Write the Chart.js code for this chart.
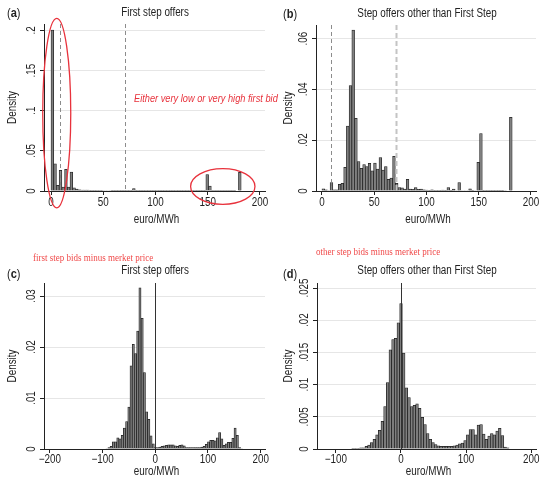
<!DOCTYPE html>
<html>
<head>
<meta charset="utf-8">
<script src="https://cdn.jsdelivr.net/npm/chart.js@4.4.1/dist/chart.umd.min.js"></script>
<style>
html, body { margin: 0; padding: 0; background: #fff; overflow: hidden; }
#wrap { position: relative; width: 542px; height: 478px; }
canvas { position: absolute; }
.t, .lbl, .note, .serif { position: absolute; white-space: nowrap; }
.t { transform: translate(-50%, -50%) scaleX(0.82); color: #222;
     font: 12px "Liberation Sans", Arial, sans-serif; }
.lbl { transform: translate(0, -50%) scaleX(0.85); transform-origin: left center; color: #222;
       font: 13px "Liberation Sans", Arial, sans-serif; }
.note { transform: translate(0, -50%) scaleX(0.84); transform-origin: left center; color: #e8323c;
        font: italic 11px "Liberation Sans", Arial, sans-serif; }
.serif { transform: translate(0, -50%) scaleX(0.9); transform-origin: left center; color: #f04a4a;
         font: 10px "Liberation Serif", "Times New Roman", serif; }
</style>
</head>
<body>
<div id="wrap">
  <canvas id="chartA" width="271" height="240" style="left:0;top:0"></canvas>
  <canvas id="chartB" width="271" height="240" style="left:271px;top:0"></canvas>
  <canvas id="chartC" width="271" height="238" style="left:0;top:240px"></canvas>
  <canvas id="chartD" width="271" height="238" style="left:271px;top:240px"></canvas>

  <div class="lbl" style="left:7px;top:12px">(<b>a</b>)</div>
  <div class="t" style="left:155px;top:12px">First step offers</div>
  <div class="lbl" style="left:283px;top:13px">(<b>b</b>)</div>
  <div class="t" style="left:427px;top:13px">Step offers other than First Step</div>
  <div class="note" style="left:134px;top:98px">Either very low or very high first bid</div>

  <div class="serif" style="left:33px;top:257px">first step bids minus merket price</div>
  <div class="lbl" style="left:7px;top:273px">(<b>c</b>)</div>
  <div class="t" style="left:155px;top:270px">First step offers</div>

  <div class="serif" style="left:316px;top:251px">other step bids minus merket price</div>
  <div class="lbl" style="left:283px;top:273px">(<b>d</b>)</div>
  <div class="t" style="left:427px;top:270px">Step offers other than First Step</div>
</div>
<script>
// (a) first step offers, euro/MWh: bins start at 0, 2.6 wide
const firstStepStart = 0, firstStepWidth = 2.6;
const firstStepDensity = [
  0.2005, 0.034, 0.007, 0.0257, 0.005, 0.027, 0.005, 0.0236, 0.004, 0.0025,
  0.0015, 0.0012, 0.001, 0.001, 0.0008, 0.0008, 0.0008, 0.0007, 0.0007, 0.0006,
  0.0006, 0.0006, 0.0005, 0.0005, 0.0005, 0.0005, 0.0004, 0.0004, 0.0003, 0.0003,
  0.003, 0.0003, 0.0003, 0.0002, 0.0002, 0.0003, 0.0003, 0.0002, 0.0002, 0.0003,
  0.0004, 0.0003, 0.0002, 0.0002, 0.0002, 0.0003, 0.0002, 0.0002, 0.0003, 0.0004,
  0.0005, 0.0003, 0.0002, 0.0002, 0.0003, 0.0002, 0.0002, 0.0204, 0.0062, 0.0001,
  0.0001, 0.0001, 0.0001, 0.0001, 0.0001, 0.0001, 0.0001, 0.0001, 0, 0.0233
];

// (b) other step offers, euro/MWh
const otherStepStart = 0, otherStepWidth = 2.6;
const otherStepDensity = [
  0.0009, 0.0005, 0.0002, 0.0033, 0.0005, 0.0005, 0.0026, 0.003, 0.0093, 0.0256,
  0.0415, 0.0634, 0.0286, 0.0116, 0.0089, 0.0104, 0.0096, 0.0109, 0.0079, 0.011,
  0.0086, 0.0132, 0.0082, 0.0096, 0.0046, 0.0051, 0.0137, 0.003, 0.0013, 0.0012,
  0.0008, 0.0046, 0.0008, 0.0007, 0.0013, 0.0007, 0.0008, 0.0005, 0.0004, 0.0003,
  0.0005, 0.0003, 0.0003, 0.0003, 0.0004, 0.0003, 0.0013, 0.0003, 0.0008, 0.0002,
  0.0033, 0.0002, 0.0002, 0.0002, 0.0009, 0.0003, 0.0002, 0.0113, 0.0226, 0.0001,
  0.0001, 0.0001, 0.0001, 0.0001, 0.0001, 0.0001, 0.0001, 0.0002, 0, 0.029
];

// (c) first step bid minus market price
const firstGapStart = -94.2, firstGapWidth = 4.2;
const firstGapDensity = [
  0.0001, 0.0003, 0.0005, 0.0014, 0.0014, 0.0022, 0.002, 0.0027, 0.0041, 0.0054,
  0.0082, 0.0163, 0.0205, 0.0187, 0.0231, 0.0316, 0.0256, 0.015, 0.0073, 0.0058,
  0.0026, 0.001, 0.0003, 0.0003, 0.0004, 0.0005, 0.0006, 0.0007, 0.0008, 0.0008,
  0.0008, 0.0006, 0.0005, 0.0007, 0.0008, 0.0006, 0.0003, 0.0003, 0.0003, 0.0003,
  0.0003, 0.0003, 0.0003, 0.0004, 0.0005, 0.0009, 0.0014, 0.0017, 0.0017, 0.0016,
  0.0022, 0.0032, 0.002, 0.0007, 0.001, 0.0013, 0.0013, 0.0021, 0.0041, 0.0027,
  0.0003, 0.0001
];

// (d) other step bids minus market price
const otherGapStart = -75.8, otherGapWidth = 4.1;
const otherGapDensity = [
  0.0001, 0.0001, 0.0001, 0.0002, 0.0002, 0.0004, 0.0006, 0.001, 0.0015, 0.0022,
  0.0029, 0.0043, 0.0066, 0.0103, 0.0154, 0.017, 0.0172, 0.0196, 0.0226, 0.0149,
  0.0095, 0.008, 0.0066, 0.0068, 0.007, 0.0063, 0.0049, 0.0038, 0.0024, 0.0015,
  0.001, 0.0007, 0.0005, 0.0004, 0.0004, 0.0004, 0.0004, 0.0004, 0.0005, 0.0006,
  0.0008, 0.0009, 0.0013, 0.0022, 0.003, 0.003, 0.0022, 0.0037, 0.0038, 0.0023,
  0.0015, 0.002, 0.0024, 0.0022, 0.0028, 0.0032, 0.0021, 0.0003, 0.0002
];

const priceTicks = [0, 50, 100, 150, 200];
const gapTicksC = [-200, -100, 0, 100, 200];
const gapTicksD = [-100, 0, 100, 200];
const densityTicksA = [0, 0.05, 0.1, 0.15, 0.2];
const densityTicksB = [0, 0.02, 0.04, 0.06];
const densityTicksC = [0, 0.01, 0.02, 0.03];
const densityTicksD = [0, 0.005, 0.01, 0.015, 0.02, 0.025];
const dashedPrices = [8.6, 70.5];

const FONT = '"Liberation Sans", Arial, sans-serif';
const NARROW = 0.82;   // stand-in for the condensed face of the original
const TEXT = '#222', AXIS = '#222', GRID = '#e6e6e6';
const RED = '#e8323c';
Chart.defaults.font.family = FONT;
Chart.defaults.font.size = 12;
Chart.defaults.color = TEXT;

const fmtDensity = v => v === 0 ? '0' : String(v).replace(/^0/, '');
const fmtPrice = v => v < 0 ? '\u2212' + Math.abs(v) : String(v);

function narrowText(ctx, str, x, y, rot) {
  ctx.save();
  ctx.translate(x, y);
  if (rot) ctx.rotate(rot);
  ctx.scale(NARROW, 1);
  ctx.fillText(str, 0, 0);
  ctx.restore();
}

function makeChart(id, p) {
  const points = p.density.map((d, i) => ({ x: p.start + p.width * (i + 0.5), y: d }));

  const decor = {
    id: 'decor',
    afterDatasetsDraw(chart) {
      const { ctx, chartArea: a, scales: { x } } = chart;
      ctx.save();
      p.lines.forEach(r => {
        const px = Math.round(x.getPixelForValue(r.value)) + 0.5;
        ctx.beginPath();
        ctx.setLineDash(r.dash);
        ctx.strokeStyle = r.color;
        ctx.lineWidth = r.width;
        ctx.moveTo(px, a.top);
        ctx.lineTo(px, a.bottom);
        ctx.stroke();
      });
      ctx.restore();
    },
    afterDraw(chart) {
      const { ctx, chartArea: a, scales: { x, y } } = chart;
      ctx.save();
      ctx.fillStyle = TEXT;
      ctx.font = '12px ' + FONT;
      ctx.textAlign = 'center';
      // y tick labels, reading upwards
      ctx.textBaseline = 'alphabetic';
      y.ticks.forEach(t => narrowText(ctx, fmtDensity(t.value), a.left - 9, y.getPixelForValue(t.value), -Math.PI / 2));
      // x tick labels
      ctx.textBaseline = 'middle';
      x.ticks.forEach(t => narrowText(ctx, fmtPrice(t.value), x.getPixelForValue(t.value), a.bottom + p.xLabelDy, 0));
      // axis titles
      narrowText(ctx, 'euro/MWh', (a.left + a.right) / 2 + 2, a.bottom + p.xTitleDy, 0);
      narrowText(ctx, 'Density', p.yTitleX, (a.top + a.bottom) / 2, -Math.PI / 2);
      (p.ellipses || []).forEach(e => {
        const cx = x.getPixelForValue(e.x), cy = y.getPixelForValue(e.y);
        const rx = Math.abs(x.getPixelForValue(e.x + e.rx) - cx);
        const ry = Math.abs(y.getPixelForValue(e.y + e.ry) - cy);
        ctx.beginPath();
        ctx.ellipse(cx, cy, rx, ry, 0, 0, 2 * Math.PI);
        ctx.strokeStyle = RED;
        ctx.lineWidth = 1.3;
        ctx.stroke();
      });
      ctx.restore();
    }
  };

  return new Chart(document.getElementById(id), {
    type: 'bar',
    data: {
      datasets: [{
        data: points,
        backgroundColor: '#808080',
        borderColor: '#1e1e1e',
        borderWidth: 0.75,
        barPercentage: 1,
        categoryPercentage: 1
      }]
    },
    options: {
      responsive: false,
      animation: false,
      devicePixelRatio: 1,
      layout: { padding: { left: 0, top: p.padTop, right: 6, bottom: 0 } },
      plugins: { legend: { display: false }, tooltip: { enabled: false } },
      scales: {
        x: {
          type: 'linear', min: p.xMin, max: p.xMax, offset: false,
          afterBuildTicks: s => { s.ticks = p.xTicks.map(v => ({ value: v })); },
          afterFit: s => { s.height = p.xHeight; },
          grid: { drawOnChartArea: false, drawTicks: true, tickLength: 4, tickColor: AXIS, offset: false },
          border: { color: AXIS, width: 1, z: 1 },
          ticks: { display: false }
        },
        y: {
          min: 0, max: p.yMax,
          afterBuildTicks: s => { s.ticks = p.yTicks.map(v => ({ value: v })); },
          afterFit: s => { s.width = p.yWidth; },
          grid: { color: GRID, lineWidth: 1, drawTicks: true, tickLength: 4, tickColor: AXIS },
          border: { color: AXIS, width: 1, z: 1 },
          ticks: { display: false }
        }
      }
    },
    plugins: [decor]
  });
}

const dashA = dashedPrices.map(v => ({ value: v, dash: [4, 3], color: '#8c8c8c', width: 1 }));
const dashB = [
  { value: dashedPrices[0], dash: [4, 3], color: '#8c8c8c', width: 1 },
  { value: dashedPrices[1], dash: [5, 3], color: '#c4c4c4', width: 2 }
];
const zeroLine = [{ value: 0, dash: [], color: '#333', width: 1 }];

makeChart('chartA', {
  density: firstStepDensity, start: firstStepStart, width: firstStepWidth,
  xMin: -6.7, xMax: 204.8, yMax: 0.2081, xTicks: priceTicks, yTicks: densityTicksA,
  padTop: 24, yWidth: 44, xHeight: 49, xLabelDy: 12, xTitleDy: 29, yTitleX: 13,
  lines: dashA,
  ellipses: [
    { x: 5.5, y: 0.097, rx: 13.4, ry: 0.118 },
    { x: 164.4, y: 0.0056, rx: 30.8, ry: 0.0222 }
  ]
});
makeChart('chartB', {
  density: otherStepDensity, start: otherStepStart, width: otherStepWidth,
  xMin: -5.7, xMax: 204.8, yMax: 0.0654, xTicks: priceTicks, yTicks: densityTicksB,
  padTop: 25, yWidth: 45, xHeight: 49, xLabelDy: 12, xTitleDy: 29, yTitleX: 18,
  lines: dashB
});
makeChart('chartC', {
  density: firstGapDensity, start: firstGapStart, width: firstGapWidth,
  xMin: -211.2, xMax: 208.2, yMax: 0.03255, xTicks: gapTicksC, yTicks: densityTicksC,
  padTop: 43, yWidth: 44, xHeight: 29, xLabelDy: 11, xTitleDy: 23, yTitleX: 13,
  lines: zeroLine
});
makeChart('chartD', {
  density: otherGapDensity, start: otherGapStart, width: otherGapWidth,
  xMin: -129, xMax: 207.4, yMax: 0.02578, xTicks: gapTicksD, yTicks: densityTicksD,
  padTop: 43, yWidth: 46, xHeight: 29, xLabelDy: 11, xTitleDy: 23, yTitleX: 18,
  lines: zeroLine
});
</script>
</body>
</html>
